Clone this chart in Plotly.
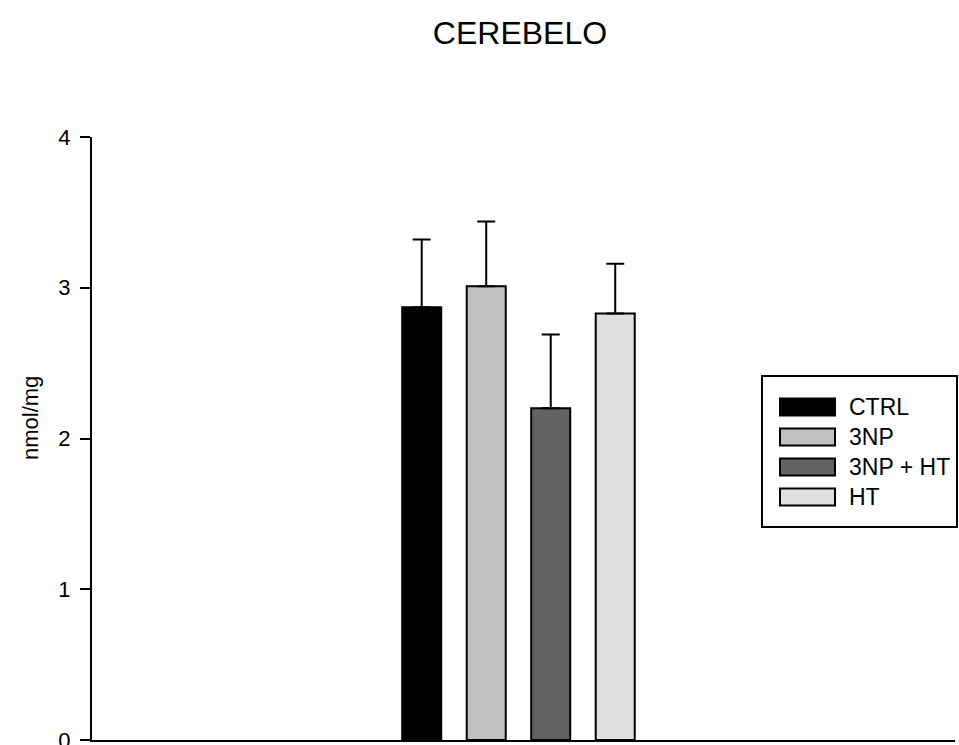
import plotly.graph_objects as go

# Group means and upper SEM, nmol/mg
groups = ["CTRL", "3NP", "3NP + HT", "HT"]
means = [2.87, 3.01, 2.20, 2.83]
sems = [0.45, 0.43, 0.49, 0.33]
colors = ["#000000", "#c0c0c0", "#626262", "#e0e0e0"]
y_ticks = [0, 1, 2, 3, 4]

W, H = 959, 745
L, R, T, B = 92, 4, 137, 5
PW, PH = W - L - R, H - T - B

FONT = "Liberation Sans, Arial, sans-serif"


def px_x(px):
    return (px - L) / PW


def px_y(py):
    return (H - B - py) / PH


fig = go.Figure()
for g, m, s, c in zip(groups, means, sems, colors):
    fig.add_trace(go.Bar(
        x=[0], y=[m], name=g, offsetgroup=g,
        marker=dict(color=c, line=dict(color="black", width=2)),
        error_y=dict(type="data", symmetric=False, array=[s], arrayminus=[0],
                     color="black", thickness=2, width=9),
        showlegend=False,
    ))

# Legend drawn as a framed box with swatches
shapes = [dict(type="rect", xref="paper", yref="paper",
               x0=px_x(762), x1=px_x(957), y0=px_y(527), y1=px_y(376),
               line=dict(color="black", width=2), fillcolor="white")]
annotations = []
for i, (g, c) in enumerate(zip(groups, colors)):
    cy = 407 + 30 * i
    shapes.append(dict(type="rect", xref="paper", yref="paper",
                       x0=px_x(780), x1=px_x(835), y0=px_y(cy + 8.5), y1=px_y(cy - 8.5),
                       line=dict(color="black", width=2), fillcolor=c))
    annotations.append(dict(xref="paper", yref="paper", x=px_x(847), y=px_y(cy),
                            text=g, showarrow=False, xanchor="left", yanchor="middle",
                            font=dict(family=FONT, size=23, color="black")))

annotations.append(dict(xref="paper", yref="paper", x=px_x(30), y=px_y(418),
                        text="nmol/mg", textangle=-90, showarrow=False,
                        xanchor="center", yanchor="middle",
                        font=dict(family=FONT, size=22, color="black")))

fig.update_layout(
    width=W, height=H,
    margin=dict(l=L, r=R, t=T, b=B, autoexpand=False),
    paper_bgcolor="white", plot_bgcolor="white",
    barmode="group", bargap=0, bargroupgap=0.395,
    title=dict(text="CEREBELO", x=520 / W, xref="container",
               xanchor="center", y=1 - 33 / H, yanchor="middle",
               font=dict(family=FONT, size=32, color="black")),
    xaxis=dict(range=[-1.653, 1.692], showticklabels=False, ticks="",
               showgrid=False, zeroline=False, showline=True, automargin=False,
               linecolor="black", linewidth=2, fixedrange=True),
    yaxis=dict(range=[0, 4], tickvals=y_ticks, ticks="outside", ticklen=10,
               tickwidth=2, tickcolor="black", showgrid=False, zeroline=False,
               showline=True, linecolor="black", linewidth=2, automargin=False,
               ticklabeloverflow="allow", ticklabelstandoff=5,
               tickfont=dict(family=FONT, size=22, color="black"),
               fixedrange=True),
    shapes=shapes, annotations=annotations,
)

fig.write_html("out.html")
